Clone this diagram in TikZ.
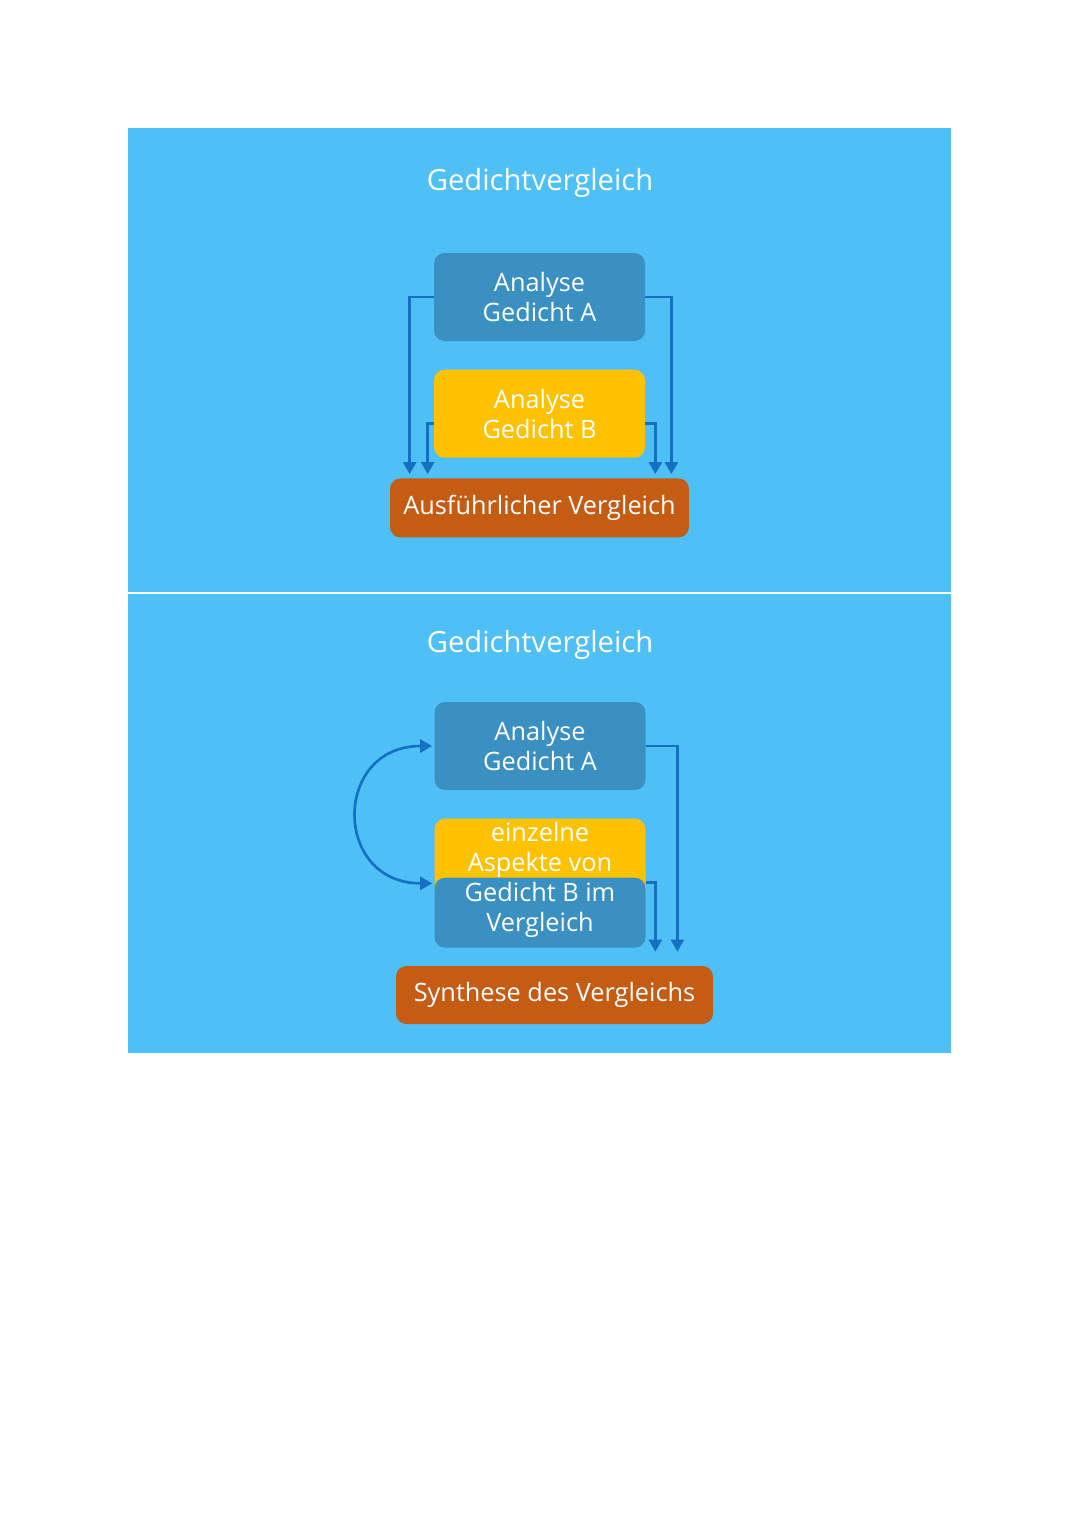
\documentclass[tikz,border=0pt]{standalone}
\usepackage{fontspec}
\setmainfont{Open Sans}
\usepackage{tikz}
\usetikzlibrary{arrows.meta, positioning, calc}
\definecolor{panelblue}{HTML}{4FC0F5}
\definecolor{boxblue}{HTML}{3A91C1}
\definecolor{boxyellow}{HTML}{FFC200}
\definecolor{boxorange}{HTML}{C45C14}
\definecolor{arrowblue}{HTML}{1570C4}
\tikzset{
  heading/.style={text=white, font=\fontsize{16.6}{20}\selectfont},
  analysis/.style={rectangle, rounded corners=6pt, minimum width=4.22cm, minimum height=1.76cm, text centered, align=center, fill=boxblue, text=white, font=\fontsize{14.4}{17}\selectfont},
  analysisb/.style={analysis, fill=boxyellow},
  result/.style={rectangle, rounded corners=6pt, minimum height=1.18cm, text centered, fill=boxorange, text=white, font=\fontsize{14.4}{17}\selectfont},
  arrow/.style={line width=1.5pt, draw=arrowblue, -{Triangle[length=0.24cm,width=0.26cm]}},
  biarrow/.style={line width=1.5pt, draw=arrowblue, {Triangle[length=0.24cm,width=0.26cm]}-{Triangle[length=0.24cm,width=0.26cm]}}
}
\begin{document}
\begin{tikzpicture}[node distance=0.5cm]
\useasboundingbox (0,0) rectangle (21.6,-30.54);
% Background panels
\fill[panelblue] (2.56,-2.56) rectangle (19.02,-21.06);
\draw[white, line width=0.04cm] (2.56,-11.86) -- (19.02,-11.86);

% TOP - parallel analysis
\node[heading] (t1) at (10.8,-3.66) {Gedichtvergleich};
\node[analysis] (a1) at (10.79,-5.94) {Analyse\\Gedicht A};
\node[analysisb, below=0.56cm of a1] (b1) {Analyse\\Gedicht B};
\node[result, minimum width=5.98cm, below=0.4cm of b1] (v1) {Ausführlicher Vergleich};

\draw[arrow, shorten >=0.08cm] (a1.west) -| ([xshift=0.4cm]v1.north west);
\draw[arrow, shorten >=0.08cm] ([yshift=-0.2cm]b1.west) -| ([xshift=0.76cm]v1.north west);
\draw[arrow, shorten >=0.08cm] ([yshift=-0.2cm]b1.east) -| ([xshift=-0.68cm]v1.north east);
\draw[arrow, shorten >=0.08cm] (a1.east) -| ([xshift=-0.36cm]v1.north east);

% BOTTOM - aspect-wise comparison
\node[heading] (t2) at (10.8,-12.9) {Gedichtvergleich};
\node[analysis] (a2) at (10.8,-14.92) {Analyse\\Gedicht A};
\node[analysisb, minimum height=1.64cm, below=0.56cm of a2] (y2) {};
\node[analysis, minimum height=1.4cm, below=1.74cm of a2] (c2) {};
\node[text=white, align=center, font=\fontsize{14.4}{17}\selectfont, yshift=0.06cm] (x2) at ($(y2.north)!0.5!(c2.south)$) {einzelne\\Aspekte von\\Gedicht B im\\Vergleich};
\node[result, minimum width=6.34cm, minimum height=1.16cm] (s2) at (11.09,-19.9) {Synthese des Vergleichs};

\draw[biarrow, shorten <=0.04cm, shorten >=0.04cm] ([yshift=-0.12cm]c2.north west) to[out=180, in=180, looseness=1.9] (a2.west);
\draw[arrow, shorten >=0.28cm] (a2.east) -| ([xshift=-0.72cm]s2.north east);
\draw[arrow, shorten >=0.28cm] ([yshift=-0.1cm]c2.north east) -| ([xshift=-1.16cm]s2.north east);
\end{tikzpicture}
\end{document}
